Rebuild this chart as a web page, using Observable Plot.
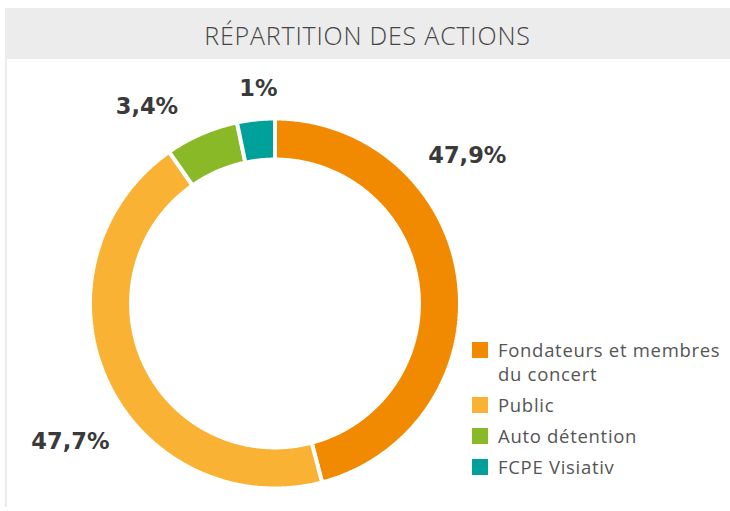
<!DOCTYPE html>
<html><head><meta charset="utf-8">
<script src="https://cdn.jsdelivr.net/npm/d3@7"></script>
<script src="https://cdn.jsdelivr.net/npm/@observablehq/plot@0.6"></script>
<style>
html,body{margin:0;padding:0;background:#fff}
body{width:730px;height:511px;position:relative;overflow:hidden;font-family:"Open Sans",sans-serif}
#title{position:absolute;left:5px;top:8px;width:725px;height:51px;background:#ececec;color:#454545;font-size:25px;line-height:55px;text-align:center;font-weight:300;letter-spacing:0.8px}
#frame{position:absolute;left:5px;top:59px;width:2px;height:448px;background:#ececec}
#chart{position:absolute;left:0;top:59px}
#legend{position:absolute;left:472px;top:338px;color:#555;font-size:18.5px;letter-spacing:0.7px}
.item{display:flex;align-items:flex-start;margin-bottom:7px}
.sw{width:16px;height:16px;flex:0 0 16px;margin-top:4px;margin-right:10px}
.lb{width:228px;line-height:24px}
</style></head>
<body>
<div id="title">RÉPARTITION DES ACTIONS</div>
<div id="frame"></div>
<div id="chart"></div>
<div id="legend"></div>
<script>
// ---- data ----
const categories = ["Fondateurs et membres du concert", "Public", "Auto détention", "FCPE Visiativ"];
const shares = [45.9, 44.4, 6.4, 3.3];            // arc sizes as drawn in the picture (%)
const labels = ["47,9%", "47,7%", "3,4%", "1%"];   // printed labels
const colors = ["#f18a00", "#f9b233", "#8ab927", "#00a19a"];

// ---- layout (not data) ----
const inner = 0.778;                       // inner radius relative to outer
const labelAngle = [52.4, 236, 327, 355.6];   // degrees clockwise from top
const labelRadius = [1.312, 1.334, 1.271, 1.165];

const total = d3.sum(shares);
const ring = [];
let acc = 0;
categories.forEach((cat, i) => {
  const a0 = acc / total * 360, a1 = (acc + shares[i]) / total * 360;
  acc += shares[i];
  const n = Math.max(4, Math.ceil((a1 - a0) / 0.5));
  const pts = [];
  for (let k = 0; k <= n; k++) { const a = (a0 + (a1 - a0) * k / n) * Math.PI / 180; pts.push([Math.sin(a), Math.cos(a)]); }
  for (let k = n; k >= 0; k--) { const a = (a0 + (a1 - a0) * k / n) * Math.PI / 180; pts.push([inner * Math.sin(a), inner * Math.cos(a)]); }
  pts.push(pts[0]);
  pts.forEach(([x, y]) => ring.push({cat, x, y}));
});
const labelData = labels.map((t, i) => {
  const a = labelAngle[i] * Math.PI / 180;
  return {t, x: labelRadius[i] * Math.sin(a), y: labelRadius[i] * Math.cos(a)};
});

const cx = 274.5, cy = 244, R = 185;
const plot = Plot.plot({
  width: 730, height: 452, margin: 0,
  style: {background: "transparent", overflow: "visible"},
  x: {domain: [-1, 1], range: [cx - R, cx + R], axis: null},
  y: {domain: [-1, 1], range: [cy + R, cy - R], axis: null},
  color: {domain: categories, range: colors},
  marks: [
    Plot.line(ring, {x: "x", y: "y", z: "cat", fill: "cat", stroke: "white", strokeWidth: 4, curve: "linear", strokeLinejoin: "miter"}),
    Plot.text(labelData, {x: "x", y: "y", text: "t", fontSize: 22.5, fontWeight: "bold", fill: "#3a3a3a", fontFamily: "DejaVu Sans", textAnchor: "middle", lineAnchor: "middle"})
  ]
});
document.getElementById("chart").appendChild(plot);

const color = plot.scale("color");
const lg = d3.select("#legend");
color.domain.forEach((c, i) => {
  const it = lg.append("div").attr("class", "item");
  it.append("div").attr("class", "sw").style("background", color.range[i]);
  it.append("div").attr("class", "lb").text(c);
});
</script>
</body></html>
